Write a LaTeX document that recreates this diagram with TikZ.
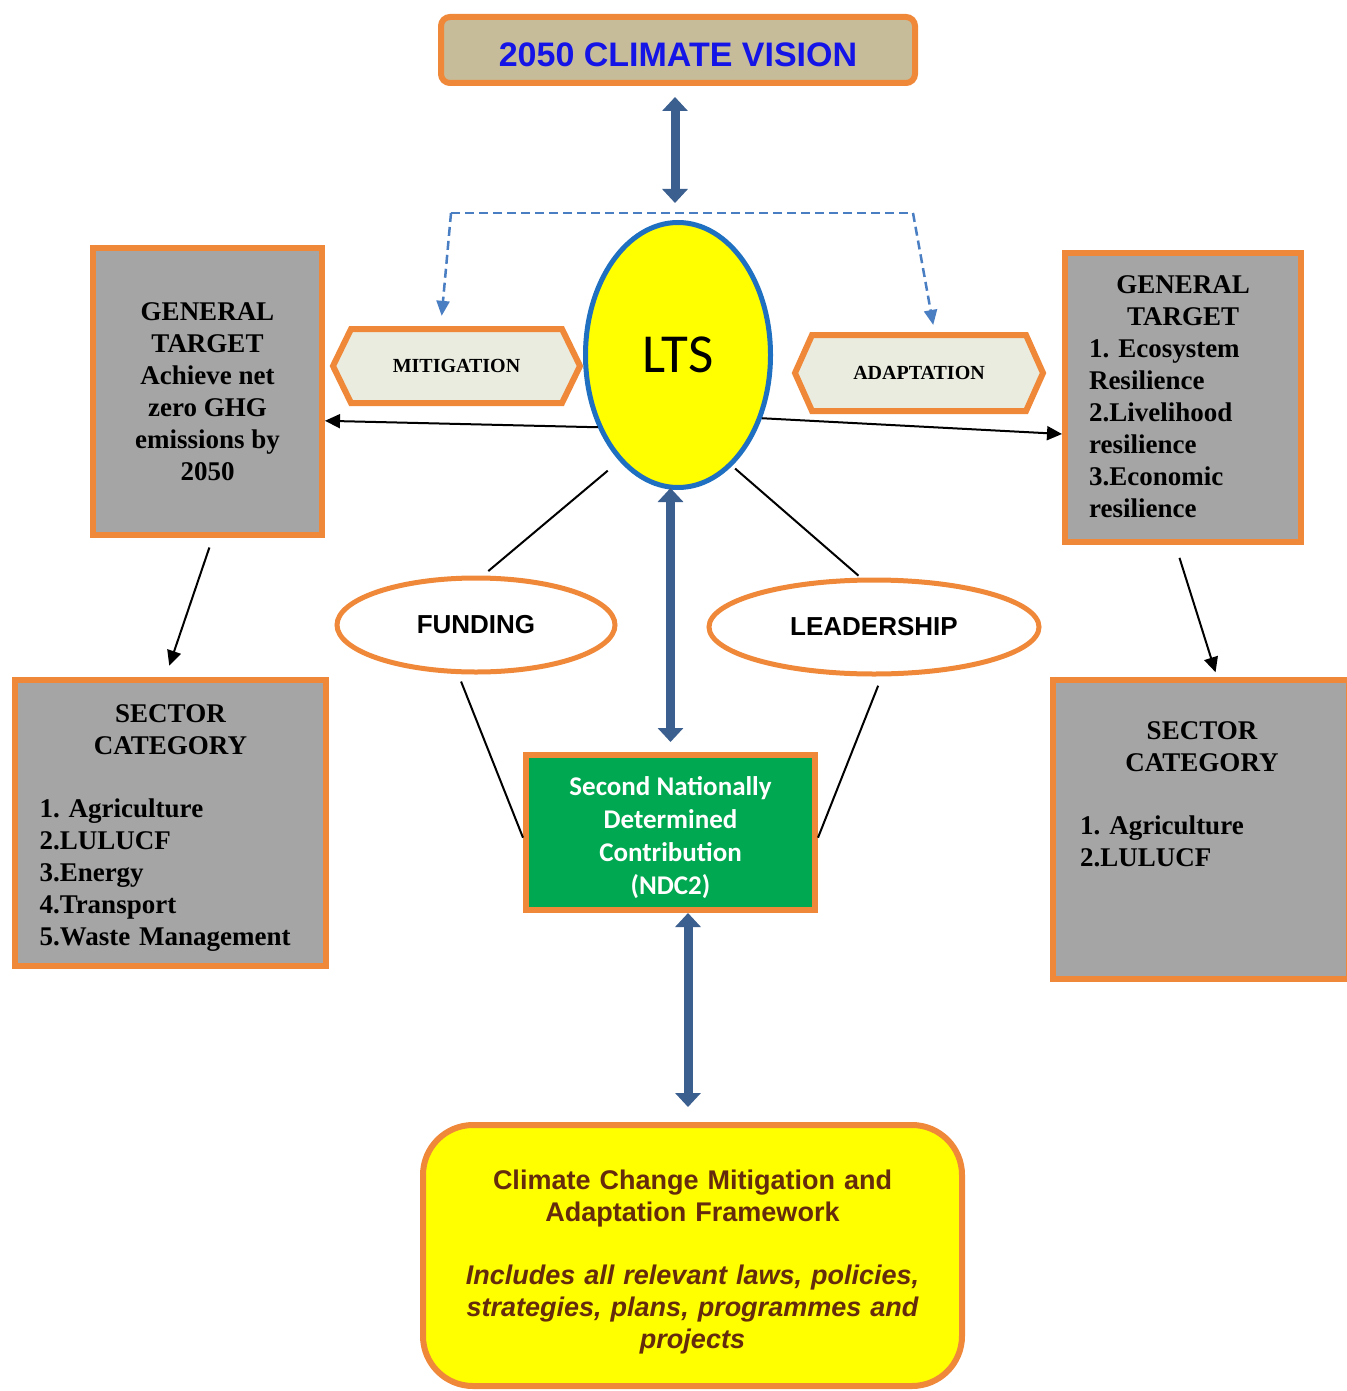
\documentclass[tikz,border=0pt]{standalone}
\usepackage{fontspec}
\setmainfont{Liberation Serif}
\newfontfamily\arialf{Liberation Sans}
\newfontfamily\calf{Carlito}
\usetikzlibrary{shapes.geometric,arrows.meta}
\definecolor{orng}{HTML}{F0883A}
\definecolor{grayf}{HTML}{A5A5A5}
\definecolor{tanf}{HTML}{C6BC9A}
\definecolor{titleblue}{HTML}{1414E6}
\definecolor{arrblue}{HTML}{3B5F8E}
\definecolor{dashblue}{HTML}{4A7EC2}
\definecolor{ltsblue}{HTML}{1F70C1}
\definecolor{ltsyellow}{HTML}{FFFF00}
\definecolor{ndcgreen}{HTML}{00A851}
\definecolor{brownt}{HTML}{642B0C}
\definecolor{hexf}{HTML}{E9ECDF}
\frenchspacing
\begin{document}
\begin{tikzpicture}[x=1pt,y=-1pt,
  obox/.style={draw=orng, line width=6pt, inner sep=0pt},
  graybox/.style={obox, rectangle, fill=grayf},
  sertext/.style={font=\bfseries\fontsize{27}{32}\selectfont},
  hexbox/.style={draw=orng, line width=6pt, fill=hexf, line join=miter},
  hextext/.style={font=\bfseries\fontsize{20}{24}\selectfont, inner sep=0pt},
  oval/.style={ellipse, draw=orng, line width=5pt, fill=white, inner sep=0pt, minimum height=94pt, font=\arialf\bfseries\fontsize{26}{30}\selectfont},
  bigarrow/.style={draw=arrblue, line width=9pt, {Triangle[length=14pt,width=25pt]}-{Triangle[length=14pt,width=25pt]}},
  conn/.style={draw=black, line width=2pt},
  connarrow/.style={conn, -{Triangle[length=15pt,width=14pt]}},
  dasharr/.style={draw=dashblue, line width=2.5pt, dash pattern=on 9pt off 5pt},
  dashtip/.style={-{Triangle[length=15pt,width=13pt]}}
]
\useasboundingbox (0,0) rectangle (1346,1391);
\fill[white] (0,0) rectangle (1346,1391);

% title
\node[obox, fill=tanf, rounded corners=9pt, minimum width=474pt, minimum height=66pt,
  font=\arialf\bfseries\fontsize{34}{40}\selectfont, text=titleblue, text height=34pt, text depth=0pt]
  (title) at (678,50) {2050 CLIMATE VISION};

% hexagons
\draw[hexbox] (333,366) -- (351,329) -- (562,329) -- (580,366) -- (562,403) -- (351,403) -- cycle;
\node[hextext, minimum width=247pt, minimum height=74pt] (mit) at (456.5,366) {MITIGATION};
\draw[hexbox] (795,373) -- (812,335) -- (1026,335) -- (1043,373) -- (1026,411) -- (812,411) -- cycle;
\node[hextext, minimum width=248pt, minimum height=76pt] (ada) at (919,373) {ADAPTATION};

% LTS
\node[ellipse, draw=ltsblue, line width=5pt, fill=ltsyellow, minimum width=185pt, minimum height=265pt,
  inner sep=0pt, font=\calf\fontsize{55}{60}\selectfont] (lts) at (678,355) {LTS};

% general target boxes
\node[graybox, sertext, minimum width=229pt, minimum height=287pt, align=center] (lgt) at (207.5,391.5)
  {GENERAL\\TARGET\\Achieve net\\zero GHG\\emissions by\\2050};
\node[graybox, sertext, minimum width=236pt, minimum height=289pt, text width=188pt] (rgt) at (1183,397)
  {\centering GENERAL\\TARGET\par\raggedright 1. Ecosystem\\Resilience\\2.Livelihood\\resilience\\3.Economic\\resilience\par};

% sector boxes
\node[graybox, minimum width=311pt, minimum height=286pt] (lsec) at (170.5,823) {};
\node[sertext, inner sep=0pt, text width=262pt] (lsect) at (170.5,828)
  {\centering SECTOR\\CATEGORY\par\vspace{31pt}\raggedright 1. Agriculture\\2.LULUCF\\3.Energy\\4.Transport\\5.Waste Management\par};
\node[graybox, minimum width=296pt, minimum height=299pt] (rsec) at (1201,829.5) {};
\node[sertext, inner sep=0pt, anchor=north, text width=244pt] (rsect) at (1202,721)
  {\centering SECTOR\\CATEGORY\par\vspace{31pt}\raggedright 1. Agriculture\\2.LULUCF\par};

% ovals
\node[oval, minimum width=278pt] (fund) at (476,625) {FUNDING};
\node[oval, minimum width=330pt] (lead) at (874,627) {LEADERSHIP};

% NDC
\node[obox, rectangle, fill=ndcgreen, minimum width=289pt, minimum height=155pt] (ndc) at (670.5,832.5) {};
\node[text=white, align=center, inner sep=0pt, font=\calf\bfseries\fontsize{27}{33}\selectfont] (ndct) at (670.5,838)
  {Second Nationally\\Determined\\Contribution\\(NDC2)};

% framework
\node[obox, rectangle, fill=ltsyellow, rounded corners=50pt, minimum width=539pt, minimum height=261pt] (fw) at (692.5,1255.5) {};
\node[text=brownt, text width=500pt, inner sep=0pt, font=\arialf\bfseries\fontsize{27}{32}\selectfont] (fwt) at (692.5,1262)
  {\centering Climate Change Mitigation and\\Adaptation Framework\par\vspace{31pt}
   \itshape Includes all relevant laws, policies,\\strategies, plans, programmes and\\projects\par};

% dashed arrows
\coordinate (dl) at (451,213);
\coordinate (dr) at (913,213);
\draw[dasharr] (dl) -- (dr);
\draw[dasharr, dashtip, shorten >=13pt] (dl) -- ([xshift=-16pt]mit.north);
\draw[dasharr, dashtip, shorten >=10pt] (dr) -- ([xshift=16pt]ada.north);

% black arrows
\draw[connarrow] (lts.222) -- (lgt.-14);
\draw[connarrow] (lts.-37) -- (rgt.197);
\draw[connarrow, shorten <=10pt, shorten >=12pt] (lgt.-88) -- (lsec.92);
\draw[connarrow, shorten <=14pt, shorten >=5pt] (rgt.-93) -- (rsec.84);

% plain lines
\draw[conn, shorten <=15pt, shorten >=7pt] (lts.241) -- (fund.82);
\draw[conn, shorten <=4pt, shorten >=3pt] (lts.-64) -- (lead.105);
\draw[conn, shorten <=8pt] (fund.250) -- (ndc.182);
\draw[conn, shorten <=10pt] (lead.-81) -- (ndc.-2);

% thick double arrows
\draw[bigarrow, shorten <=11pt, shorten >=17pt] ([xshift=-3pt]title.south) -- ([xshift=-3pt]lts.north);
\draw[bigarrow, shorten <=-2pt, shorten >=10pt] (lts.south -| ndc.north) -- (ndc.north);
\draw[bigarrow, shorten <=0pt, shorten >=15pt] ([xshift=17.5pt]ndc.south) -- ([xshift=17.5pt]ndc.south |- fw.north);
\end{tikzpicture}
\end{document}
